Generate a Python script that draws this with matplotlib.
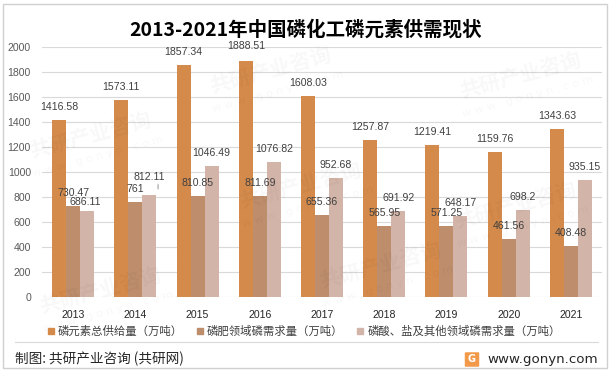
import numpy as np
import matplotlib.pyplot as plt
from matplotlib.patches import Rectangle, FancyBboxPatch
from matplotlib.lines import Line2D

plt.rcParams['font.family'] = ['Noto Sans CJK SC', 'DejaVu Sans']

# dane
years = ['2013', '2014', '2015', '2016', '2017', '2018', '2019', '2020', '2021']
supply = [1416.58, 1573.11, 1857.34, 1888.51, 1608.03, 1257.87, 1219.41, 1159.76, 1343.63]
fert = [730.47, 761, 810.85, 811.69, 655.36, 565.95, 571.25, 461.56, 408.48]
other = [686.11, 812.11, 1046.49, 1076.82, 952.68, 691.92, 648.17, 698.2, 935.15]
names = ['磷元素总供给量（万吨）', '磷肥领域磷需求量（万吨）', '磷酸、盐及其他领域磷需求量（万吨）']
colors = ['#D48A4B', '#BD8D6C', '#D3B4A8']

W, H = 612, 371
fig = plt.figure(figsize=(W / 100, H / 100), dpi=100)
fig.patch.set_facecolor('white')

# znaki wodne
for wx, wy in [(270, 70), (520, 75), (300, 185), (90, 135), (515, 205), (380, 265), (100, 290)]:
    fig.text(wx / W, 1 - wy / H, '共研产业咨询', fontsize=15, weight='bold', color='#000000',
             alpha=0.03, rotation=15, ha='center', va='center')
    fig.text((wx + 8) / W, 1 - (wy + 22) / H, 'w w w . g o n y n . c o m', fontsize=8,
             color='#000000', alpha=0.03, rotation=15, ha='center', va='center', family='DejaVu Sans')

ax = fig.add_axes([42 / W, 1 - 297 / H, 560 / W, 250 / H])
ax.set_facecolor('none')

x = np.arange(len(years))
bw = 0.225
series = [supply, fert, other]
nudge = {(0, 2): (-2, -4), (1, 2): (0, 5), (3, 0): (0, 2)}
for i, vals in enumerate(series):
    pos = x + (i - 1) * bw
    ax.bar(pos, vals, width=bw, color=colors[i], zorder=3)
    for j, v in enumerate(vals):
        dx, dy = nudge.get((j, i), (0, 0))
        txt = ('%.2f' % v).rstrip('0').rstrip('.')
        ax.annotate(txt, (pos[j], v), xytext=(dx * 0.72, (13 + dy) * 0.72), textcoords='offset points',
                    ha='center', va='center', fontsize=7.6, color='#404040',
                    family='Liberation Sans', annotation_clip=False, zorder=4)

# linia odniesienia dla 812.11
ax.annotate('', (x[1] + bw + 0.14, other[1] + 30), xytext=(x[1] + bw + 0.14, other[1] + 110),
            arrowprops=dict(arrowstyle='-', color='#808080', lw=0.6))

ax.set_xlim(-0.5, len(years) - 0.5)
ax.set_ylim(0, 2000)
ax.set_yticks(np.arange(0, 2001, 200))
ax.set_xticks(x)
ax.set_xticklabels(years, family='Liberation Sans', fontsize=7.6, color='#262626')
for lab in ax.get_yticklabels():
    lab.set_family('Liberation Sans')
ax.tick_params(axis='y', length=0, pad=8, labelsize=7.6, labelcolor='#595959')
ax.tick_params(axis='x', length=0, pad=9)
ax.grid(axis='y', color='#D9D9D9', lw=0.8, zorder=0)
for s in ax.spines.values():
    s.set_visible(False)

fig.text(0.5, 1 - 30 / H, '2013-2021年中国磷化工磷元素供需现状', ha='center', va='center',
         fontsize=14, weight='bold', color='#000000')

handles = [Line2D([], [], marker='s', ls='', markersize=5, color=c) for c in colors]
fig.legend(handles, names, loc='center', bbox_to_anchor=(0.497, 1 - 331 / H), ncol=3, frameon=False,
           fontsize=8.2, handlelength=0.6, handletextpad=0.3, columnspacing=1.2,
           labelcolor='#404040')

# stopka
fig.add_artist(Line2D([15 / W, 598 / W], [1 - 342 / H, 1 - 342 / H], color='#D9D9D9', lw=0.8))
fig.text(15 / W, 1 - 359 / H, '制图: 共研产业咨询 (共研网)', ha='left', va='center', fontsize=9.8,
         color='#262626')
fig.text(598 / W, 1 - 359 / H, 'www.gonyn.com', ha='right', va='center', fontsize=9.6,
         color='#262626', family='DejaVu Sans')
fig.add_artist(FancyBboxPatch((466 / W, 1 - 366 / H), 12 / W, 13 / H,
                              boxstyle='round,pad=0.002', transform=fig.transFigure,
                              facecolor='#F39A4A', edgecolor='none'))
fig.text(472 / W, 1 - 359.5 / H, 'G', ha='center', va='center', fontsize=7, weight='bold',
         color='white', family='DejaVu Sans')

fig.add_artist(Rectangle((3 / W, 3 / H), 604 / W, 364 / H, transform=fig.transFigure,
                         fill=False, edgecolor='#D0D0D0', lw=1))

fig.savefig('out.png', dpi=100)
